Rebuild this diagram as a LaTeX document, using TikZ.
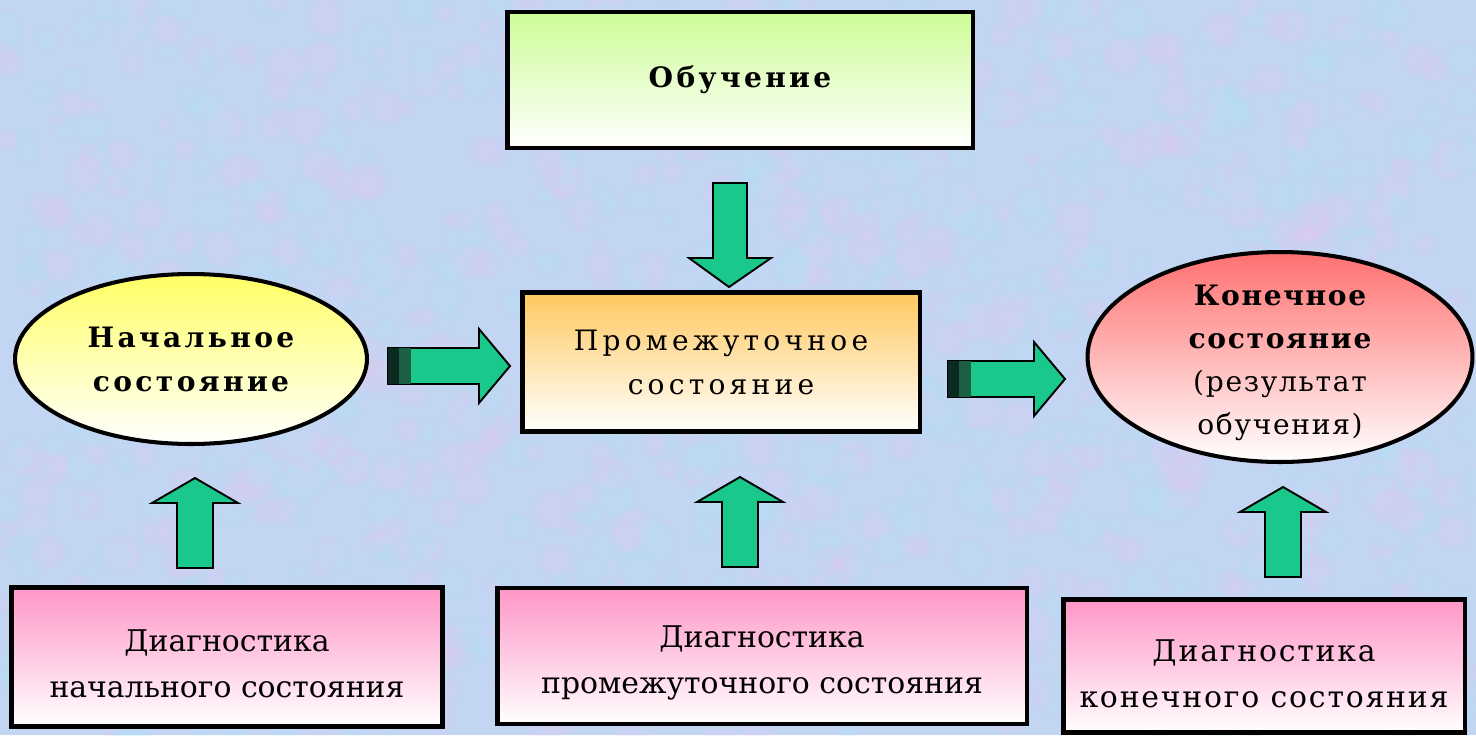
\documentclass[tikz,border=0pt]{standalone}
\usepackage{fontspec}
\setmainfont{DejaVu Serif}
\newfontfamily\razr[LetterSpace=12]{DejaVu Serif}
\newfontfamily\razrs[LetterSpace=15]{DejaVu Serif}
\newfontfamily\razrk[LetterSpace=6]{DejaVu Serif}
\usetikzlibrary{shapes.geometric}
\definecolor{fon}{RGB}{194,213,243}
\definecolor{fonr}{RGB}{226,202,240}
\definecolor{fong}{RGB}{180,226,246}
\definecolor{strelka}{RGB}{26,200,140}
\definecolor{hvost}{RGB}{12,42,32}
\definecolor{hvostz}{RGB}{28,96,68}
\definecolor{salat}{RGB}{205,252,150}
\definecolor{oranzh}{RGB}{255,200,95}
\definecolor{zhelt}{RGB}{255,255,100}
\definecolor{krasn}{RGB}{255,112,112}
\definecolor{roz}{RGB}{255,150,200}
\begin{document}
\begin{tikzpicture}[x=0.02cm, y=-0.02cm, font=\fontsize{16}{25}\selectfont, line join=miter,
	blok/.style={draw, line width=2.8pt, rectangle, align=center, inner sep=0pt, bottom color=white},
	oval/.style={draw, line width=2.3pt, ellipse, align=center, inner sep=0pt, bottom color=white},
	diag/.style={blok, top color=roz, font=\fontsize{17}{26}\selectfont},
	strel/.style={draw=black, fill=strelka, line width=1.1pt}]
	\useasboundingbox (0,0) rectangle (1476,735);
	% fakturnyi fon
	\begin{scope}
		\clip (0,0) rectangle (1476,735);
		\fill[fon] (0,0) rectangle (1476,735);
		\pgfmathsetseed{7}
		\foreach \i in {1,...,600}{
			\fill[fonr, opacity=0.22] ({rnd*1476},{rnd*735}) circle ({6+rnd*14});
			\fill[fong, opacity=0.22] ({rnd*1476},{rnd*735}) circle ({6+rnd*14});
		}
	\end{scope}
	% verhnii blok
	\node[blok, top color=salat, minimum width=9.32cm, minimum height=2.72cm] (obuch) at (740,80) {\razr\bfseries Обучение};
	% sostoyaniya
	\node[oval, top color=zhelt, minimum width=7.04cm, minimum height=3.4cm] (nach) at (191,359) {\razr\bfseries Начальное\\ \razr\bfseries состояние};
	\node[blok, top color=oranzh, minimum width=7.96cm, minimum height=2.78cm] (prom) at (721,362) {\razrs Промежуточное\\ \razrs состояние};
	\node[oval, top color=krasn, minimum width=7.7cm, minimum height=4.2cm, inner ysep=-25pt, font=\fontsize{16}{24.5}\selectfont] (kon) at (1280,357) {\rule{0pt}{18pt}\razrk\bfseries Конечное\\ \razrk\bfseries состояние\\ \razrk(результат\\ \razrk обучения)};
	% diagnostika
	\node[diag, minimum width=8.62cm, minimum height=2.78cm] (dnach) at (227,657) {\rule{0pt}{20pt}Диагностика\\ начального состояния};
	\node[diag, minimum width=10.6cm, minimum height=2.72cm] (dprom) at (762,656) {\rule{0pt}{20pt}Диагностика\\ промежуточного состояния};
	\node[diag, minimum width=8.04cm, minimum height=2.66cm] (dkon) at (1264,666) {\rule{0pt}{21pt}\razrk Диагностика\\ \razrk конечного состояния};
	% strelki
	\coordinate (vniz) at (729,287);
	\draw[strel] (vniz) -- ++(42,-29) -- ++(-24,0) -- ++(0,-75) -- ++(-34,0) -- ++(0,75) -- ++(-24,0) -- cycle;
	\foreach \x/\y in {195/478, 740/477, 1283/487}
		\draw[strel] (\x,\y) -- ++(43,25) -- ++(-25,0) -- ++(0,65) -- ++(-36,0) -- ++(0,-65) -- ++(-25,0) -- cycle;
	\foreach \x/\y/\d in {510/366/91, 1065/379/86}{
		\draw[strel] (\x,\y) -- ++(-31,-37) -- ++(0,19) -- ++(-\d,0) -- ++(0,36) -- ++(\d,0) -- ++(0,19) -- cycle;
		\fill[hvost] (\x-31-\d,\y-18) rectangle ++(11,36);
		\fill[hvostz] (\x-20-\d,\y-18) rectangle ++(12,36);
	}
\end{tikzpicture}
\end{document}
